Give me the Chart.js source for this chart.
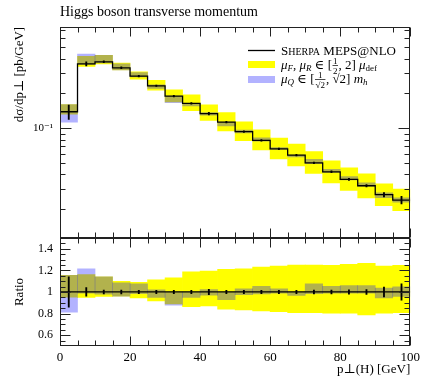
<!DOCTYPE html>
<html>
<head>
<meta charset="utf-8">
<script src="https://cdn.jsdelivr.net/npm/chart.js@4.4.1/dist/chart.umd.min.js"></script>
<style>
  html, body { margin: 0; padding: 0; background: #fff; }
  #wrap { width: 424px; height: 377px; }
</style>
</head>
<body>
<div id="wrap"><canvas id="chart" width="424" height="377"></canvas></div>
<script>
// ===== data =====
const binEdges = [0, 5, 10, 15, 20, 25, 30, 35, 40, 45, 50, 55, 60, 65, 70, 75, 80, 85, 90, 95, 100];
// Sherpa MEPS@NLO, dsigma/dpT [pb/GeV]
const xsec = [0.139, 0.360, 0.375, 0.333, 0.282, 0.233, 0.190, 0.164, 0.134, 0.113,
  0.0937, 0.0788, 0.0664, 0.0586, 0.0503, 0.0421, 0.0362, 0.0319, 0.0267, 0.0240];
// relative stat. error
const statErr = [0.14, 0.04, 0.018, 0.018, 0.015, 0.015, 0.015, 0.015, 0.025, 0.015,
  0.015, 0.015, 0.015, 0.016, 0.017, 0.018, 0.02, 0.022, 0.045, 0.075];
// muF, muR variation (ratio to central)
const scaleUp = [1.155, 1.162, 1.14, 1.099, 1.09, 1.112, 1.131, 1.186, 1.193, 1.209,
  1.215, 1.23, 1.24, 1.249, 1.249, 1.246, 1.256, 1.265, 1.24, 1.246];
const scaleDown = [0.953, 0.95, 0.959, 0.96, 0.944, 0.918, 0.89, 0.865, 0.872, 0.84,
  0.834, 0.825, 0.818, 0.809, 0.809, 0.803, 0.803, 0.787, 0.803, 0.809];
// muQ variation (ratio to central)
const muqUp = [1.155, 1.215, 1.14, 1.084, 1.075, 1.02, 1.0, 1.0, 1.022, 1.0,
  1.028, 1.052, 1.028, 1.0, 1.075, 1.052, 1.059, 1.059, 1.037, 1.047];
const muqDown = [0.813, 0.99, 0.98, 0.96, 0.985, 0.95, 0.878, 0.95, 0.97, 0.928,
  0.975, 0.981, 0.99, 0.968, 0.984, 0.99, 0.99, 0.99, 0.944, 0.959];
const ratioTicks = [0.6, 0.8, 1, 1.2, 1.4];
const mainTicks = [0.1];

const FONT = '"Liberation Serif", "DejaVu Serif", serif';
const YELLOW = '#ffff00';
const BLUE = 'rgba(0,0,255,0.3)';

const centers = xsec.map((_, i) => (binEdges[i] + binEdges[i + 1]) / 2);
const stepPts = binEdges.map((x, i) => ({ x, y: xsec[Math.min(i, xsec.length - 1)] }));
const band = (lo, hi, scale) => centers.map((x, i) => ({ x, y: [lo[i] * scale(i), hi[i] * scale(i)] }));
const onMain = i => xsec[i];
const onRatio = () => 1;
const errLo = statErr.map(e => 1 - e);
const errHi = statErr.map(e => 1 + e);

function barSet(data, color, axis, order, thick) {
  return {
    type: 'bar', data, backgroundColor: color, borderWidth: 0, yAxisID: axis, order,
    grouped: false, barPercentage: 1, categoryPercentage: 1, barThickness: thick
  };
}

// ===== frame, ticks and legend =====
function hline(ctx, x1, x2, y) { ctx.beginPath(); ctx.moveTo(x1, y); ctx.lineTo(x2, y); ctx.stroke(); }
function vline(ctx, x, y1, y2) { ctx.beginPath(); ctx.moveTo(x, y1); ctx.lineTo(x, y2); ctx.stroke(); }

function drawParts(ctx, x, y, parts) {
  ctx.textAlign = 'left';
  ctx.textBaseline = 'alphabetic';
  for (const p of parts) {
    if (p.frac) {
      ctx.font = `9px ${FONT}`;
      const wn = ctx.measureText(p.frac[0]).width;
      const wd = ctx.measureText(p.frac[1]).width;
      const w = Math.max(wn, wd) + 2;
      ctx.textAlign = 'center';
      ctx.fillText(p.frac[0], x + w / 2, y - 5.5);
      ctx.fillText(p.frac[1], x + w / 2, y + 5);
      ctx.textAlign = 'left';
      ctx.fillRect(x + 0.5, y - 4, w - 1, 0.7);
      x += w;
    } else {
      const size = p.size || 13;
      ctx.font = `${p.italic ? 'italic ' : ''}${size}px ${FONT}`;
      ctx.fillText(p.t, x, y + (p.dy || 0));
      x += ctx.measureText(p.t).width;
    }
  }
}

const framePlugin = {
  id: 'frame',
  afterDatasetsDraw(chart) {
    const ctx = chart.ctx;
    const xs = chart.scales.x, ym = chart.scales.y, yr = chart.scales.yr;
    const L = Math.round(xs.left) + 0.5, R = Math.round(xs.right) - 0.5;
    ctx.save();
    ctx.strokeStyle = '#222';
    ctx.lineWidth = 1;
    [ym, yr].forEach(s => {
      const T = Math.round(s.top) + 0.5, B = Math.round(s.bottom) - 0.5;
      ctx.strokeRect(L, T, R - L, B - T);
      binEdges.forEach(v => {
        const px = Math.round(xs.getPixelForValue(v)) + 0.5;
        const len = v % 20 === 0 ? 9 : 5;
        vline(ctx, px, T, T + len);
        vline(ctx, px, B, B - len);
      });
    });
    // log ticks of the main panel
    for (let e = -2; e <= 0; e++) {
      for (let m = 1; m < 10; m++) {
        const v = m * Math.pow(10, e);
        if (v <= ym.min || v >= ym.max) continue;
        const py = Math.round(ym.getPixelForValue(v)) + 0.5;
        const len = m === 1 ? 11 : 5;
        hline(ctx, L, L + len, py);
        hline(ctx, R, R - len, py);
      }
    }
    // ratio ticks every 0.05
    for (let k = 11; k < 30; k++) {
      const py = Math.round(yr.getPixelForValue(k * 0.05)) + 0.5;
      const len = k % 4 === 0 ? 10 : 5;
      hline(ctx, L, L + len, py);
      hline(ctx, R, R - len, py);
    }

    // legend
    ctx.fillStyle = '#000';
    ctx.lineWidth = 1.3;
    ctx.strokeStyle = '#000';
    hline(ctx, 248, 275, 50.5);
    drawParts(ctx, 281, 55, [
      { t: 'S' }, { t: 'HERPA', size: 10 }, { t: ' MEPS@NLO' }
    ]);
    ctx.fillStyle = YELLOW;
    ctx.fillRect(248, 61, 27, 7);
    ctx.fillStyle = '#000';
    drawParts(ctx, 281, 69, [
      { t: 'μ', italic: true }, { t: 'F', italic: true, size: 9, dy: 2 }, { t: ', ' },
      { t: 'μ', italic: true }, { t: 'R', italic: true, size: 9, dy: 2 }, { t: ' ∈ [' },
      { frac: ['1', '2'] }, { t: ', 2] ' },
      { t: 'μ', italic: true }, { t: 'def', size: 9, dy: 2 }
    ]);
    ctx.fillStyle = BLUE;
    ctx.fillRect(248, 76, 27, 7);
    ctx.fillStyle = '#000';
    drawParts(ctx, 281, 83, [
      { t: 'μ', italic: true }, { t: 'Q', italic: true, size: 9, dy: 2 }, { t: ' ∈ [' },
      { frac: ['1', '√2'] }, { t: ', √2] ' },
      { t: 'm', italic: true }, { t: 'h', italic: true, size: 9, dy: 2 }
    ]);
    ctx.restore();
  }
};

new Chart(document.getElementById('chart'), {
  type: 'bar',
  data: {
    datasets: [
      { type: 'line', data: stepPts, stepped: 'before', borderColor: '#000', borderWidth: 1.3,
        pointRadius: 0, yAxisID: 'y', order: 0 },
      { type: 'line', data: [{ x: 0, y: 1 }, { x: 100, y: 1 }], borderColor: '#000', borderWidth: 1.3,
        pointRadius: 0, yAxisID: 'yr', order: 0 },
      barSet(band(errLo, errHi, onMain), '#000', 'y', 1, 1.2),
      barSet(band(errLo, errHi, onRatio), '#000', 'yr', 1, 1.2),
      barSet(band(muqDown, muqUp, onMain), BLUE, 'y', 2),
      barSet(band(muqDown, muqUp, onRatio), BLUE, 'yr', 2),
      barSet(band(scaleDown, scaleUp, onMain), YELLOW, 'y', 3),
      barSet(band(scaleDown, scaleUp, onRatio), YELLOW, 'yr', 3)
    ]
  },
  options: {
    responsive: false,
    animation: false,
    devicePixelRatio: 1,
    layout: { padding: { left: 0, right: 11, top: 0, bottom: 0 } },
    plugins: {
      legend: { display: false },
      tooltip: { enabled: false },
      title: {
        display: true, text: 'Higgs boson transverse momentum', align: 'start', fullSize: false,
        color: '#000', font: { family: FONT, size: 14, weight: 'normal' }, padding: { top: 4, bottom: 6 }
      }
    },
    scales: {
      x: {
        type: 'linear', min: 0, max: 100, offset: false,
        grid: { display: false, drawTicks: false }, border: { display: false },
        ticks: { stepSize: 20, padding: 4, maxRotation: 0, autoSkip: false, color: '#000',
          font: { family: FONT, size: 13 } },
        title: { display: true, text: 'p⊥(H) [GeV]', align: 'end', color: '#000',
          font: { family: FONT, size: 13 }, padding: { top: 0, bottom: 0 } },
        afterFit(s) { s.height = 31; }
      },
      y: {
        type: 'logarithmic', position: 'left', stack: 'panels', stackWeight: 211, weight: 1,
        min: 0.0113, max: 0.753,
        grid: { display: false, drawTicks: false }, border: { display: false },
        afterBuildTicks(s) { s.ticks = mainTicks.map(v => ({ value: v })); },
        ticks: { padding: 7, autoSkip: false, color: '#000', font: { family: FONT, size: 11 },
          callback: () => '10⁻¹' },
        title: { display: true, text: 'dσ/dp⊥ [pb/GeV]', align: 'end', color: '#000',
          font: { family: FONT, size: 13 }, padding: { top: 12 } },
        afterFit(s) { s.width = 60; }
      },
      yr: {
        type: 'linear', position: 'left', stack: 'panels', stackWeight: 108, weight: 0,
        min: 0.5, max: 1.5,
        grid: { display: false, drawTicks: false }, border: { display: false },
        afterBuildTicks(s) { s.ticks = ratioTicks.map(v => ({ value: v })); },
        ticks: { padding: 7, autoSkip: false, color: '#000', font: { family: FONT, size: 12 },
          callback: v => String(v) },
        title: { display: true, text: 'Ratio', align: 'center', color: '#000',
          font: { family: FONT, size: 13 }, padding: { top: 12 } },
        afterFit(s) { s.width = 60; }
      }
    }
  },
  plugins: [framePlugin]
});
</script>
</body>
</html>
